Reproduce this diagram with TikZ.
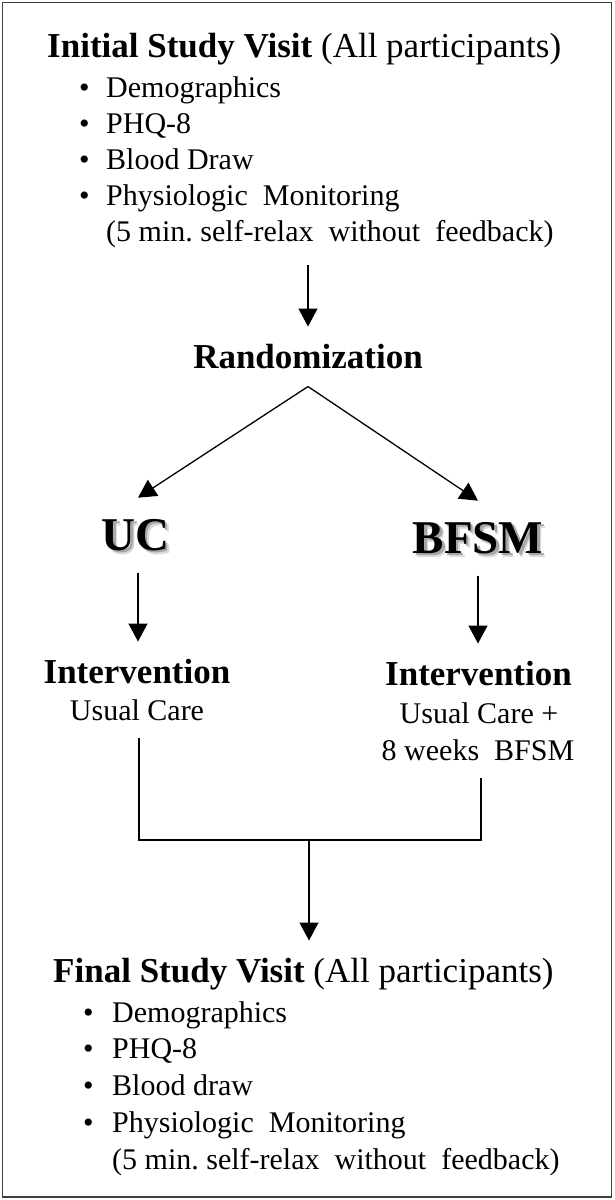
\documentclass[tikz,border=0pt]{standalone}
\usepackage{fontspec}
\setmainfont{Liberation Serif}
\usetikzlibrary{arrows.meta,calc}

% bold arm label with a soft grey drop shadow
\newcommand{\armlabel}[1]{%
  \makebox[0pt][l]{\hspace{4pt}\raisebox{-4pt}{\color{black!15}#1}}%
  \makebox[0pt][l]{\hspace{2.5pt}\raisebox{-2.5pt}{\color{black!35}#1}}%
  #1}

\tikzset{
  titletext/.style={font=\fontsize{35}{40}\selectfont, inner sep=0pt, anchor=base west},
  headtext/.style={font=\fontsize{35}{40}\selectfont\bfseries, inner sep=0pt, anchor=base},
  itemtext/.style={font=\fontsize{30}{36}\selectfont, inner sep=0pt, anchor=base west},
  subtext/.style={font=\fontsize{30}{36}\selectfont, inner sep=0pt, anchor=base},
  armtext/.style={font=\fontsize{47}{52}\selectfont\bfseries, inner sep=0pt, anchor=base},
  arr/.style={-{Triangle[width=19pt,length=18pt]}, line width=1.3pt},
  link/.style={line width=1.3pt},
}

\begin{document}
\begin{tikzpicture}[x=1pt,y=1pt,yscale=-1,xscale=1]
\useasboundingbox (0,0) rectangle (614,1200);

%Shape: Rectangle (frame)
\draw [black!75, line width=1.5pt] (2.5,2.5) rectangle (611.5,1197) ;

% Text Node (initial visit)
\node (ini) [titletext] at (47,57) {\textbf{Initial Study Visit} (All participants)};
\node (ib1) [itemtext] at (79,97) {•};
\node (i1) [itemtext] at (106,97) {Demographics};
\node (ib2) [itemtext] at (79,133) {•};
\node (i2) [itemtext] at (106,133) {PHQ-8};
\node (ib3) [itemtext] at (79,169) {•};
\node (i3) [itemtext] at (106,169) {Blood Draw};
\node (ib4) [itemtext] at (79,205) {•};
\node (i4) [itemtext] at (106,205) {Physiologic\ \ Monitoring};
\node (i5) [itemtext] at (106,241) {(5 min.\ self-relax\ \ without\ \ feedback)};

% Text Node (randomization)
\node (rand) [headtext] at (308,368) {Randomization};

% Text Node (arms)
\node (uc) [armtext] at (135.5,550) {\armlabel{UC}};
\node (bf) [armtext] at (478,553) {\armlabel{BFSM}};

% Text Node (interventions)
\node (int1) [headtext] at (137,683) {Intervention};
\node (uc2) [subtext] at (137,720) {Usual Care};
\node (int2) [headtext] at (478.5,685) {Intervention};
\node (bf2) [subtext] at (479,723) {Usual Care +};
\node (bf3) [subtext] at (478,760) {8 weeks\ \ BFSM};

% Text Node (final visit)
\node (fin) [titletext] at (53,982) {\textbf{Final Study Visit} (All participants)};
\node (fb1) [itemtext] at (83,1022) {•};
\node (f1) [itemtext] at (112,1022) {Demographics};
\node (fb2) [itemtext] at (83,1058) {•};
\node (f2) [itemtext] at (112,1058) {PHQ-8};
\node (fb3) [itemtext] at (83,1095) {•};
\node (f3) [itemtext] at (112,1095) {Blood draw};
\node (fb4) [itemtext] at (83,1132) {•};
\node (f4) [itemtext] at (112,1132) {Physiologic\ \ Monitoring};
\node (f5) [itemtext] at (112,1169) {(5 min.\ self-relax\ \ without\ \ feedback)};

% Connectors
\coordinate (apex) at ($(rand.south)+(0,18)$);
\coordinate (uctip) at ($(uc.north)+(2.5,-21)$);
\coordinate (bftip) at ($(bf.north)+(0,-21)$);
\coordinate (join) at (309,840);

\draw [arr, shorten <=17pt, shorten >=17pt] (rand |- i5.south) -- (rand.north) ;
\draw [arr] (apex) -- (uctip) ;
\draw [arr] (apex) -- (bftip) ;
\draw [arr, shorten <=18pt, shorten >=17pt] ($(uc.south)+(2.5,0)$) -- ($(int1.north)+(1,0)$) ;
\draw [arr, shorten <=18pt, shorten >=17pt] (bf.south) -- (int2.north -| bf) ;
\draw [link] ($(uc2.south)+(2,17)$) |- (join) -| ($(bf3.south)+(3,17)$) ;
\draw [arr, shorten >=17pt] (join) -- (join |- fin.north) ;

\end{tikzpicture}
\end{document}
